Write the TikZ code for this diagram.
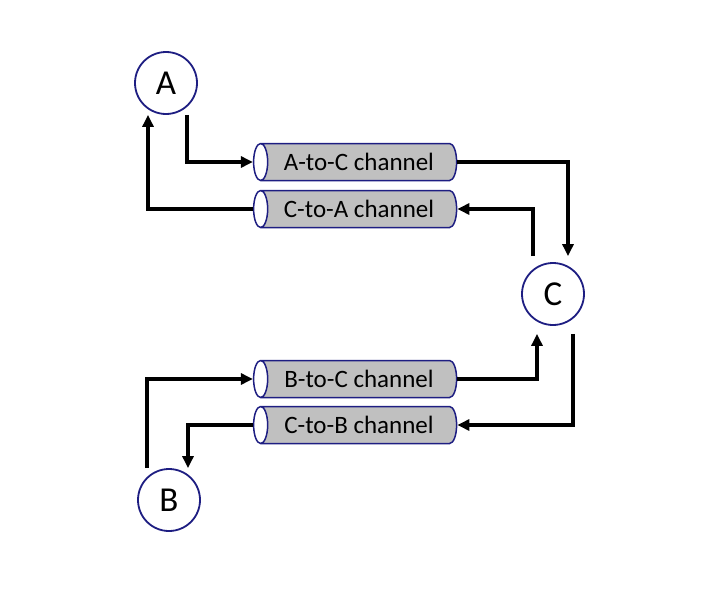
\documentclass[tikz,border=0pt]{standalone}
\usepackage{fontspec}
\setmainfont{Carlito}
\usetikzlibrary{shapes.geometric,arrows.meta,calc}
\definecolor{borde}{RGB}{30,30,130}
\definecolor{canal}{RGB}{192,192,192}
\tikzset{
  proceso/.style={circle, draw=borde, line width=1.8pt, fill=white, minimum size=62pt, inner sep=0pt, font=\fontsize{35}{40}\selectfont},
  canalbox/.style={cylinder, shape border rotate=180, draw=borde, line width=1.5pt, aspect=0.8,
    cylinder uses custom fill, cylinder body fill=canal, cylinder end fill=white,
    minimum height=203pt, minimum width=37pt, inner sep=0pt, font=\fontsize{25}{29}\selectfont},
  flecha/.style={line width=3.2pt, -{Triangle[length=12pt,width=11pt]}}
}
\begin{document}
\begin{tikzpicture}[x=1pt,y=-1pt]
    \useasboundingbox (0,0) rectangle (712,602);

    % Dibuja los procesos
    \node[proceso] (A) at (166,83) {A};
    \node[proceso] (B) at (169,500) {B};
    \node[proceso] (C) at (553,294) {C};

    % Dibuja los canales
    \node[canalbox] (AC) at (359,162) {A-to-C channel};
    \node[canalbox] (CA) at (359,209) {C-to-A channel};
    \node[canalbox] (BC) at (359,379) {B-to-C channel};
    \node[canalbox] (CB) at (359,425) {C-to-B channel};

    % Conexiones de A
    \draw[flecha] ([xshift=21pt]A.south) |- (AC.west);
    \draw[flecha] (CA.west) -| ([xshift=-18pt]A.south);

    % Conexiones de C
    \draw[flecha] (AC.east) -| ([xshift=15pt,yshift=6pt]C.north);
    \draw[flecha] ([xshift=-20pt,yshift=6pt]C.north) |- (CA.east);
    \draw[flecha] (BC.east) -| ([xshift=-16pt,yshift=-8pt]C.south);
    \draw[flecha] ([xshift=20pt,yshift=-8pt]C.south) |- (CB.east);

    % Conexiones de B
    \draw[flecha] ([xshift=-22pt]B.north) |- (BC.west);
    \draw[flecha] (CB.west) -| ([xshift=19pt]B.north);
\end{tikzpicture}
\end{document}
